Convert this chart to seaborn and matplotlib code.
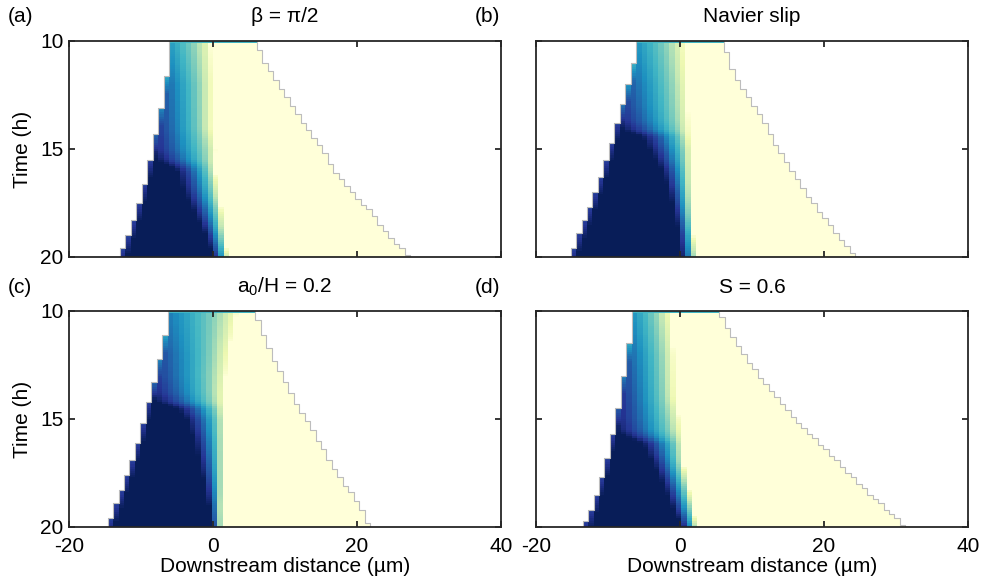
import numpy as np
import pandas as pd
import matplotlib
matplotlib.use("Agg")
import matplotlib.pyplot as plt
import seaborn as sns

# ---------------- data ----------------
hours = [10, 11, 12, 13, 14, 15, 16, 17, 18, 19, 20]

# left (upstream) and right (downstream) extent of the filled region, µm
left_a = [-5.8, -6.15, -6.63, -7.17, -7.77, -8.39, -9.04, -9.8, -10.72, -11.8, -12.95]
right_a = [6.0, 7.2, 9.2, 11.0, 13.0, 15.2, 16.9, 19.4, 22.1, 24.3, 27.3]
left_b = [-5.75, -6.48, -7.2, -8.03, -8.88, -9.8, -10.75, -11.76, -12.93, -14.12, -15.3]
right_b = [6.0, 6.85, 8.3, 10.2, 12.1, 13.6, 15.5, 17.4, 19.7, 22.0, 24.4]
left_c = [-6.0, -6.6, -7.24, -7.97, -8.78, -9.5, -10.36, -11.35, -12.36, -13.6, -14.7]
right_c = [5.9, 6.9, 8.1, 9.6, 11.1, 13.0, 14.6, 16.4, 18.3, 20.4, 21.7]
left_d = [-6.5, -6.8, -7.3, -7.85, -8.33, -8.9, -9.57, -10.29, -11.08, -12.12, -13.5]
right_d = [5.5, 6.9, 8.9, 11.0, 13.5, 15.9, 19.0, 22.0, 24.9, 28.1, 31.3]

# colour profile: position where the level is 0 (yellow) and 1 (navy), µm
knots_a = [10, 12, 14, 15.0, 15.5, 15.8, 16, 17, 18, 19, 20]
yellow_a = [-0.4, -0.15, -0.2, 0.4, 0.35, 0.35, 0.3, 0.8, 1.3, 1.6, 2.1]
navy_a = [-14.0, -10.6, -9.8, -9.2, -7.8, -6.0, -5.0, -4.0, -2.5, -1.0, 0.0]

knots_b = [10, 12, 13, 13.7, 14.1, 14.4, 15, 16, 17, 18, 19, 20]
yellow_b = [0.6, 1.0, 1.1, 1.2, 1.25, 1.3, 1.5, 1.5, 1.5, 1.6, 1.9, 2.2]
navy_b = [-14.4, -11.5, -10.6, -9.5, -8.0, -5.4, -4.3, -2.5, -1.5, -0.75, -0.15, 0.25]

knots_c = [10, 12, 13, 13.8, 14.2, 14.5, 15, 16, 17, 18, 19, 20]
yellow_c = [3.4, 2.1, 1.7, 1.45, 1.4, 1.5, 1.6, 1.5, 1.4, 1.3, 1.15, 1.15]
navy_c = [-15.0, -11.3, -10.6, -9.3, -7.8, -5.0, -3.7, -2.6, -1.9, -1.2, -0.6, -0.3]

knots_d = [10, 12, 14, 15, 15.5, 15.8, 16.1, 17, 18, 19, 20]
yellow_d = [-1.4, -0.9, -0.75, -0.1, 0.1, 0.25, 0.4, 0.4, 1.1, 1.75, 2.36]
navy_d = [-13.0, -10.9, -9.85, -9.6, -9.0, -7.6, -5.3, -3.8, -2.4, -1.15, 0.25]

first_row_level = 0.5
new_column_drop = 0.16     # newly covered columns start lighter
new_column_age_h = 0.8
cell_um = 0.76
grid_shift = [0.0, 0.0, -0.2, 0.15]

panel_labels = ["(a)", "(b)", "(c)", "(d)"]
panel_titles = ["β = π/2", "Navier slip", r"a$_\mathregular{0}$/H = 0.2", "S = 0.6"]
x_ticks = [-20, 0, 20, 40]
y_ticks = [10, 15, 20]
x_label = "Downstream distance (µm)"
y_label = "Time (h)"

panels = [
    (left_a, right_a, knots_a, yellow_a, navy_a),
    (left_b, right_b, knots_b, yellow_b, navy_b),
    (left_c, right_c, knots_c, yellow_c, navy_c),
    (left_d, right_d, knots_d, yellow_d, navy_d),
]

# ---------------- style ----------------
plt.rcParams["font.family"] = ["Liberation Sans", "DejaVu Sans"]
plt.rcParams["mathtext.fontset"] = "custom"
plt.rcParams["mathtext.rm"] = "Liberation Sans"
plt.rcParams["mathtext.it"] = "Liberation Sans:italic"
FS = 15

W, H = 989, 586
fig = plt.figure(figsize=(W / 100, H / 100), dpi=100)

rects_px = [(69, 41, 501, 257), (536, 41, 968, 257),
            (69, 311, 501, 527), (536, 311, 968, 527)]

dt = 0.1
t_edges = np.arange(10, 20 + 1e-9, dt)
t_mid = t_edges[:-1] + dt / 2
n_rows = len(t_mid)

for p, (left, right, knots, yel, nav) in enumerate(panels):
    x0, y0, x1, y1 = rects_px[p]
    ax = fig.add_axes([x0 / W, 1 - y1 / H, (x1 - x0) / W, (y1 - y0) / H])
    shift = grid_shift[p]
    k0 = int(np.floor((-20 - shift) / cell_um)) - 1
    k1 = int(np.ceil((40 - shift) / cell_um)) + 1
    ks = np.arange(k0, k1)
    xc = shift + (ks + 0.5) * cell_um

    Lt = np.interp(t_mid, hours, left)
    Rt = np.interp(t_mid, hours, right)
    Yt = np.interp(t_mid, knots, yel)
    Nt = np.interp(t_mid, knots, nav)

    inside_all = (xc[None, :] >= Lt[:, None]) & (xc[None, :] <= Rt[:, None])
    t_add = np.full(len(ks), np.inf)
    for j in range(len(ks)):
        rows = np.where(inside_all[:, j])[0]
        if len(rows):
            t_add[j] = -np.inf if rows[0] == 0 else t_mid[rows[0]]

    Z = np.full((n_rows, len(ks)), np.nan)
    lidx, ridx = [], []
    for i in range(n_rows):
        inside = inside_all[i]
        s = np.clip((Yt[i] - xc) / (Yt[i] - Nt[i]), 0, 1)
        v = s ** 0.6
        age = t_mid[i] - t_add
        v = v - new_column_drop * np.clip(1 - age / new_column_age_h, 0, 1)
        if i == 0:
            v[:] = first_row_level
        Z[i, inside] = np.clip(v[inside], 0, 1)
        cols = np.where(inside)[0]
        lidx.append(cols[0])
        ridx.append(cols[-1] + 1)

    df = pd.DataFrame(Z)
    sns.heatmap(df, ax=ax, cmap="YlGnBu", vmin=0, vmax=1, cbar=False,
                mask=np.isnan(Z), xticklabels=False, yticklabels=False,
                linewidths=0, rasterized=True)

    # thin grey staircase outline of the filled region
    for idx in (lidx, ridx):
        xs, ys = [], []
        for i, e in enumerate(idx):
            xs += [e, e]
            ys += [i, i + 1]
        ax.plot(xs, ys, color="#bdbdbd", lw=0.8, zorder=3)

    def xi(x):
        return (x - shift) / cell_um - k0

    ax.set_xlim(xi(-20), xi(40))
    ax.set_ylim(n_rows, 0)
    ax.set_xticks([xi(v) for v in x_ticks])
    ax.set_yticks([(v - 10) / dt for v in y_ticks])
    bottom_row = p >= 2
    left_col = p % 2 == 0
    ax.set_xticklabels([str(v) for v in x_ticks] if bottom_row else [], fontsize=FS)
    ax.set_yticklabels([str(v) for v in y_ticks] if left_col else [], fontsize=FS,
                       rotation=0)
    ax.tick_params(direction="in", top=True, right=True, bottom=True, left=True,
                   length=4, width=1.3, color="#262626", pad=4,
                   labelbottom=bottom_row, labelleft=left_col)
    ax.tick_params(axis="x", pad=7)
    for sp in ax.spines.values():
        sp.set_visible(True)
        sp.set_color("#262626")
        sp.set_linewidth(1.3)
        sp.set_zorder(5)
    ax.set_xlabel("")
    ax.set_ylabel("")

    cx = (x0 + x1) / 2
    fig.text(cx / W, 1 - (y0 - 24) / H, panel_titles[p], ha="center", va="center",
             fontsize=FS)
    lab_x = 8 if left_col else 475
    fig.text(lab_x / W, 1 - (y0 - 24) / H, panel_labels[p], ha="left", va="center",
             fontsize=FS)
    if bottom_row:
        fig.text(cx / W, 1 - 566 / H, x_label, ha="center", va="center", fontsize=FS)
    if left_col:
        fig.text(22 / W, 1 - ((y0 + y1) / 2) / H, y_label, ha="center", va="center",
                 rotation=90, fontsize=FS)

fig.savefig("out.png", dpi=100)
